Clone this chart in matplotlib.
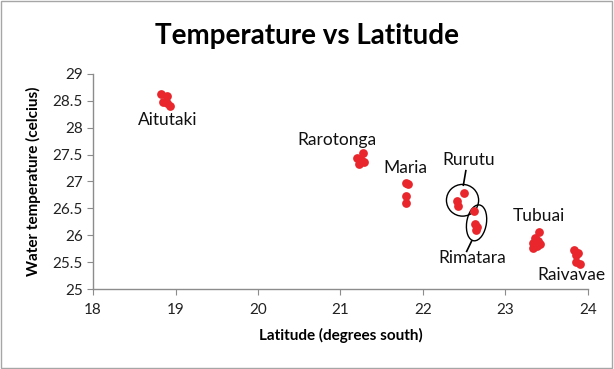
import matplotlib
matplotlib.use("Agg")
import matplotlib.pyplot as plt
from matplotlib.patches import Ellipse, Rectangle

plt.rcParams['font.family'] = ['Lato', 'DejaVu Sans']

# Data
aitutaki_lat = [18.82, 18.90, 18.85, 18.90, 18.93]
aitutaki_temp = [28.63, 28.58, 28.47, 28.45, 28.40]
rarotonga_lat = [21.27, 21.20, 21.25, 21.22, 21.28]
rarotonga_temp = [27.52, 27.43, 27.40, 27.33, 27.36]
maria_lat = [21.79, 21.82, 21.80, 21.79]
maria_temp = [26.98, 26.95, 26.72, 26.60]
rurutu_lat = [22.50, 22.41, 22.43]
rurutu_temp = [26.79, 26.63, 26.55]
rimatara_lat = [22.62, 22.63, 22.66, 22.64]
rimatara_temp = [26.45, 26.20, 26.15, 26.09]
tubuai_lat = [23.41, 23.36, 23.39, 23.34, 23.38, 23.33, 23.42, 23.37]
tubuai_temp = [26.06, 25.95, 25.90, 25.85, 25.80, 25.76, 25.84, 25.92]
raivavae_lat = [23.83, 23.88, 23.86, 23.85, 23.90]
raivavae_temp = [25.72, 25.67, 25.63, 25.50, 25.47]

labels = ["Aitutaki", "Rarotonga", "Maria", "Rurutu", "Rimatara", "Tubuai", "Raivavae"]
label_x = [18.90, 20.96, 21.79, 22.55, 22.60, 23.40, 23.80]
label_y = [28.14, 27.77, 27.25, 27.40, 25.58, 26.36, 25.26]

x_ticks = [18, 19, 20, 21, 22, 23, 24]
y_ticks = [25, 25.5, 26, 26.5, 27, 27.5, 28, 28.5, 29]

fig = plt.figure(figsize=(6.14, 3.69), dpi=100)
ax = fig.add_axes([0.1515, 0.2168, 0.806, 0.583])

red = '#e8262b'
for la, te in [(aitutaki_lat, aitutaki_temp), (rarotonga_lat, rarotonga_temp),
               (maria_lat, maria_temp), (rurutu_lat, rurutu_temp),
               (rimatara_lat, rimatara_temp), (tubuai_lat, tubuai_temp),
               (raivavae_lat, raivavae_temp)]:
    ax.plot(la, te, 'o', color=red, markersize=6.3, markeredgewidth=0, clip_on=False)

ax.set_xlim(18, 24)
ax.set_ylim(25, 29)
ax.set_xticks(x_ticks)
ax.set_xticklabels([str(v) for v in x_ticks])
ax.set_yticks(y_ticks)
ax.set_yticklabels([('%g' % v) for v in y_ticks])

for s in ['top', 'right']:
    ax.spines[s].set_visible(False)
for s in ['left', 'bottom']:
    ax.spines[s].set_color('#8c8c8c')
    ax.spines[s].set_linewidth(1)
ax.tick_params(direction='out', length=4, color='#8c8c8c', labelsize=11, labelcolor='#222222')
ax.tick_params(axis='x', pad=6)

ax.set_xlabel('Latitude (degrees south)', fontsize=11, fontweight='bold', labelpad=8)
ax.set_ylabel('Water temperature (celcius)', fontsize=11, fontweight='bold', labelpad=8)
fig.text(0.5, 0.903, 'Temperature vs Latitude', ha='center', va='center',
         fontsize=20, fontweight='bold')

for t, x, y in zip(labels, label_x, label_y):
    ax.text(x, y, t, ha='center', va='center', fontsize=12.5, color='#111111')

# circles around Rurutu and Rimatara
ax.add_patch(Ellipse((22.48, 26.65), width=0.39, height=0.59, fill=False, lw=1.0, color='black'))
ax.add_patch(Ellipse((22.65, 26.23), width=0.24, height=0.67, angle=-5, fill=False, lw=1.0, color='black'))
ax.plot([22.52, 22.49], [27.20, 26.93], color='black', lw=1.2)
ax.plot([22.59, 22.53], [25.89, 25.70], color='black', lw=1.2)

fig.add_artist(Rectangle((0.002, 0.003), 0.995, 0.993, transform=fig.transFigure,
                         fill=False, edgecolor='#a6a6a6', lw=1))

fig.savefig('out.png', dpi=100)
